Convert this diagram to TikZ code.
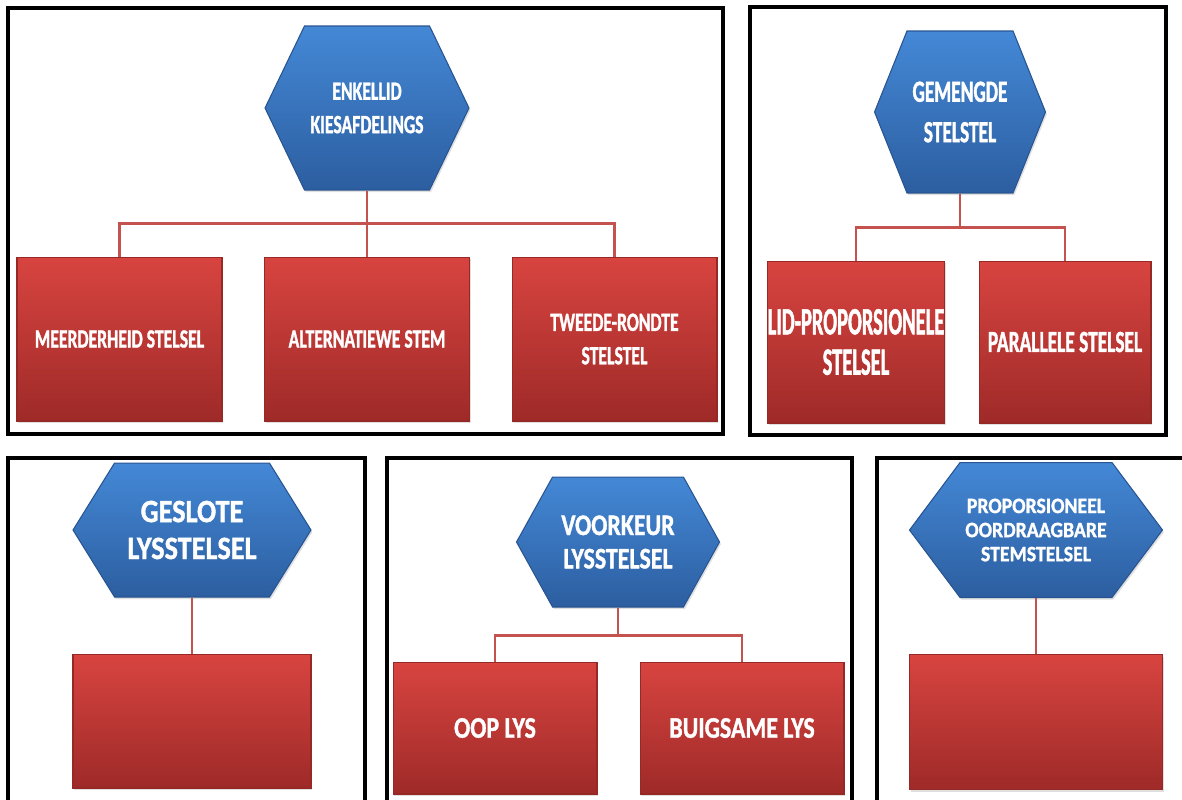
\documentclass[tikz,border=0pt]{standalone}
\usepackage{fontspec}
\setmainfont{Carlito}
\newfontfamily\fontA{Carlito}[FakeStretch=0.67,FakeBold=1.2]
\newfontfamily\fontB{Carlito}[FakeStretch=0.63,FakeBold=1.2]
\newfontfamily\fontC{Carlito}[FakeStretch=0.53,FakeBold=1.2]
\newfontfamily\fontD{Carlito}[FakeStretch=0.87,FakeBold=1.2]
\newfontfamily\fontE{Carlito}[FakeStretch=0.80,FakeBold=1.2]
\newfontfamily\fontF{Carlito}[FakeStretch=0.90,FakeBold=1.2]
\usetikzlibrary{shapes.symbols,shadows}

\definecolor{hextop}{RGB}{68,136,214}
\definecolor{hexbot}{RGB}{44,94,160}
\definecolor{hexrim}{RGB}{40,84,146}
\definecolor{boxtop}{RGB}{216,68,64}
\definecolor{boxbot}{RGB}{158,42,40}
\definecolor{boxrim}{RGB}{150,40,38}
\definecolor{linkred}{RGB}{196,82,78}

\begin{document}
\begin{tikzpicture}[x=0.02cm,y=-0.02cm,
  hexa/.style={shape=signal, signal to=west and east, top color=hextop, bottom color=hexbot,
    draw=hexrim, line width=0.6pt, text=white, align=center, inner sep=0pt,
    drop shadow={opacity=0.25, shadow xshift=0.8pt, shadow yshift=-1.2pt}},
  box/.style={rectangle, top color=boxtop, bottom color=boxbot, draw=boxrim, line width=0.6pt,
    text=white, align=center, inner sep=0pt,
    drop shadow={opacity=0.25, shadow xshift=0.8pt, shadow yshift=-1.2pt}},
  link/.style={draw=linkred, line width=1.2pt},
  frame/.style={draw=black, line width=1.8pt},
  txtA/.style={font=\fontA\bfseries\fontsize{15}{19}\selectfont},
  txtB/.style={font=\fontB\bfseries\fontsize{17.5}{23}\selectfont},
  txtC/.style={font=\fontC\bfseries\fontsize{22}{23}\selectfont},
  txtD/.style={font=\fontD\bfseries\fontsize{18.5}{21}\selectfont},
  txtE/.style={font=\fontE\bfseries\fontsize{17}{19}\selectfont},
  txtF/.style={font=\fontF\bfseries\fontsize{12.5}{13.7}\selectfont}]

% Uitsnit en rame
\clip (0,0) rectangle (1182,799);
\draw[frame] (8,8) rectangle (723,434);
\draw[frame] (750,7) rectangle (1166,435);
\draw[frame] (8,458) rectangle (365,830);
\draw[frame] (387,458) rectangle (852,830);
\draw[frame] (877,458) rectangle (1200,830);

% Enkellid kiesafdelings
\node[hexa, txtA, minimum width=4.08cm, minimum height=3.28cm, signal pointer angle=128.6] (enkel) at (367,108) {ENKELLID\\KIESAFDELINGS};
\node[box, txtA, minimum width=4.1cm, minimum height=3.28cm] (meer) at (119.5,339) {MEERDERHEID STELSEL};
\node[box, txtA, minimum width=4.1cm, minimum height=3.28cm] (alt) at (367,339) {ALTERNATIEWE STEM};
\node[box, txtA, minimum width=4.1cm, minimum height=3.28cm] (twee) at (614.5,339) {TWEEDE-RONDTE\\STELSTEL};
\draw[link] (enkel.south) -- ++(0,33) -| (meer.north);
\draw[link] (enkel.south) -- ++(0,33) -| (twee.north);
\draw[link] (enkel.south) -- (alt.north);

% Gemengde stelstel
\node[hexa, txtB, minimum width=3.42cm, minimum height=3.24cm, signal pointer angle=136.3] (gemeng) at (960,112) {GEMENGDE\\STELSTEL};
\node[box, txtC, minimum width=3.44cm, minimum height=3.24cm] (lid) at (856,342) {LID-PROPORSIONELE\\STELSEL};
\node[box, txtB, minimum width=3.44cm, minimum height=3.24cm] (para) at (1065,342) {PARALLELE STELSEL};
\draw[link] (gemeng.south) -- ++(0,34) -| (lid.north);
\draw[link] (gemeng.south) -- ++(0,34) -| (para.north);

% Geslote lysstelsel
\node[hexa, txtD, minimum width=4.76cm, minimum height=2.68cm, signal pointer angle=116.4] (geslote) at (192,530) {GESLOTE\\LYSSTELSEL};
\node[box, minimum width=4.76cm, minimum height=2.68cm] (leeg1) at (192,721) {};
\draw[link] (geslote.south) -- (leeg1.north);

% Voorkeur lysstelsel
\node[hexa, txtE, minimum width=4.06cm, minimum height=2.6cm, signal pointer angle=122] (voork) at (618,542) {VOORKEUR\\LYSSTELSEL};
\node[box, txtE, minimum width=4.08cm, minimum height=2.64cm] (oop) at (495,728) {OOP LYS};
\node[box, txtE, minimum width=4.08cm, minimum height=2.64cm] (buig) at (742,728) {BUIGSAME LYS};
\draw[link] (voork.south) -- ++(0,28) -| (oop.north);
\draw[link] (voork.south) -- ++(0,28) -| (buig.north);

% Proporsioneel oordraagbare stemstelsel
\node[hexa, txtF, minimum width=5.06cm, minimum height=2.7cm, signal pointer angle=106.4] (prop) at (1036,530) {PROPORSIONEEL\\OORDRAAGBARE\\STEMSTELSEL};
\node[box, minimum width=5.06cm, minimum height=2.7cm] (leeg2) at (1036,722) {};
\draw[link] (prop.south) -- (leeg2.north);
\end{tikzpicture}
\end{document}
